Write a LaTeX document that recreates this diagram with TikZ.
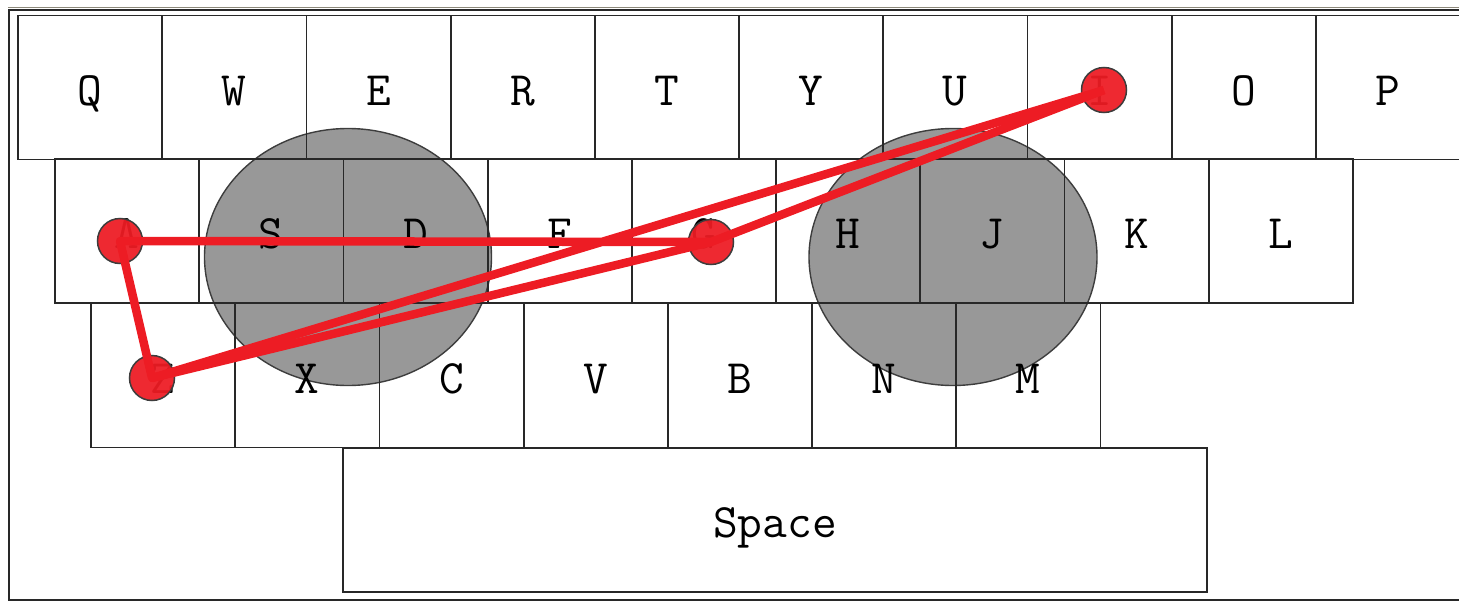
\documentclass[tikz,border=0pt]{standalone}
\usepackage{tikz}
\usetikzlibrary{positioning,calc,shapes.geometric}
\definecolor{keyrule}{RGB}{40,40,40}
\definecolor{zonegray}{RGB}{152,152,152}
\definecolor{swipered}{RGB}{237,28,36}
\definecolor{framegray}{RGB}{140,136,122}
\tikzset{
  keycap/.style={rectangle,draw=keyrule,line width=1.8pt,minimum width=144.2pt,minimum height=144pt,inner sep=0pt,
    font=\ttfamily\fontsize{48}{52}\selectfont,text height=35pt,text depth=0pt},
  zone/.style={ellipse,draw=keyrule!90,line width=1.4pt,fill=zonegray,inner sep=0pt},
  touch/.style={circle,draw=keyrule!90,line width=1.5pt,fill=swipered,fill opacity=0.94,minimum size=45pt,inner sep=0pt},
  swipe/.style={draw=swipered,line width=8.5pt,line join=round}
}
\begin{document}
\begin{tikzpicture}[x=1pt,y=-1pt]
  \useasboundingbox (0,0) rectangle (1459,602);
  % frame
  \draw[framegray,line width=1.2pt] (8,7.5) -- (1470,7.5);
  \draw[keyrule,line width=2pt] (9,10.5) rectangle (1475,600);
  % target zones
  \node[zone,minimum width=287pt,minimum height=257pt] (lzone) at (348,257) {};
  \node[zone,minimum width=288pt,minimum height=257pt] (rzone) at (953,257) {};
  % keys
  \foreach \k [count=\i from 0] in {Q,W,E,R,T,Y,U,I,O,P}
    \node[keycap] (\k) at (18+72.1+144.2*\i,87.5) {\k};
  \foreach \k [count=\i from 0] in {A,S,D,F,G,H,J,K,L}
    \node[keycap] (\k) at (55+72.1+144.2*\i,231) {\k};
  \foreach \k [count=\i from 0] in {Z,X,C,V,B,N,M}
    \node[keycap] (\k) at (91+72.1+144.2*\i,375.5) {\k};
  \node[keycap,minimum width=864pt] (space) at (775,520) {Space};
  % touch points
  \node[touch] (tA) at (120,241) {};
  \node[touch] (tZ) at (152,378) {};
  \node[touch] (tG) at (711,242) {};
  \node[touch] (tI) at (1104,90) {};
  \draw[swipe] (tG.center) -- (tA.center) -- (tZ.center) -- (tI.center);
  \draw[swipe] (tZ.center) -- (tG.center) -- (tI.center);
\end{tikzpicture}
\end{document}
